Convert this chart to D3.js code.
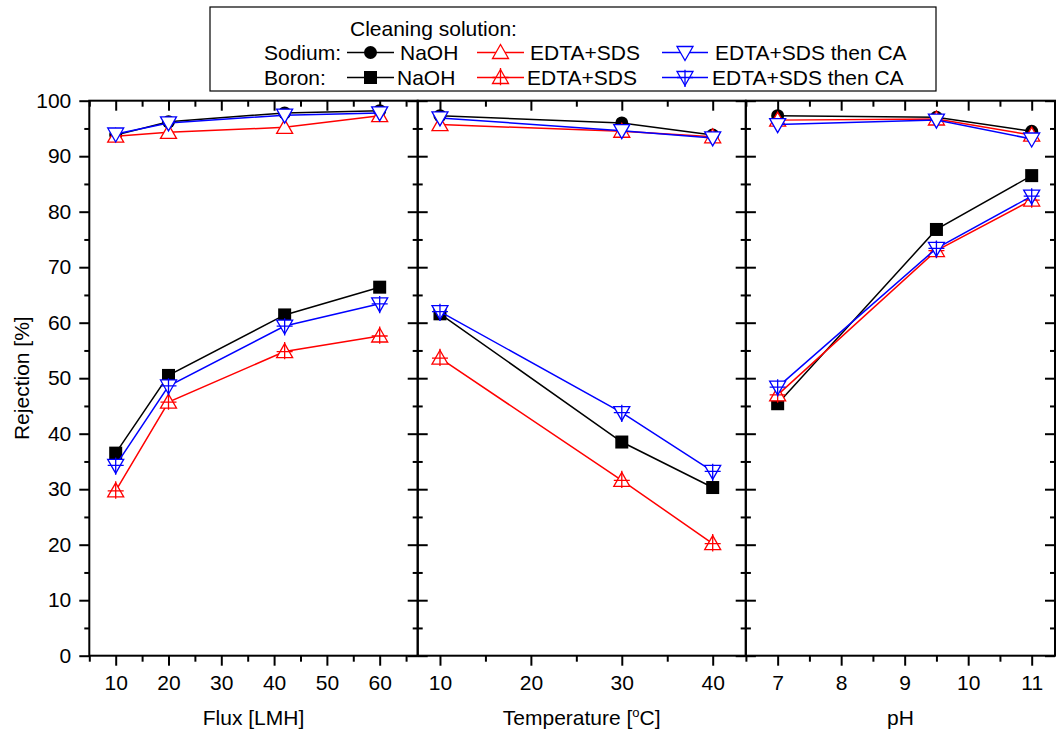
<!DOCTYPE html>
<html>
<head>
<meta charset="utf-8">
<script src="https://cdn.jsdelivr.net/npm/d3@7"></script>
<style>
body { margin: 0; background: #fff; }
svg { display: block; font-family: "Liberation Sans", Arial, sans-serif; }
</style>
</head>
<body>
<div id="chart"></div>
<script>
// x values of the three panels
var flux = [10, 20, 42, 60];
var temperature = [10, 30, 40];
var ph = [7, 9.5, 11];

// sodium rejection [%]
var naFluxNaOH = [93.8, 96.2, 97.8, 98.2];
var naFluxEdta = [93.6, 94.3, 95.2, 97.3];
var naFluxCa = [94.0, 96.0, 97.4, 97.8];
var naTempNaOH = [97.3, 96.0, 93.8];
var naTempEdta = [95.7, 94.5, 93.5];
var naTempCa = [96.9, 94.6, 93.3];
var naPhNaOH = [97.3, 97.0, 94.5];
var naPhEdta = [96.5, 96.7, 93.8];
var naPhCa = [95.7, 96.5, 93.1];

// boron rejection [%]
var bFluxNaOH = [36.5, 50.5, 61.4, 66.4];
var bFluxEdta = [29.7, 45.7, 54.8, 57.6];
var bFluxCa = [34.3, 48.6, 59.4, 63.4];
var bTempNaOH = [61.6, 38.5, 30.3];
var bTempEdta = [53.6, 31.6, 20.2];
var bTempCa = [62.0, 43.8, 33.2];
var bPhNaOH = [45.4, 76.8, 86.5];
var bPhEdta = [47.0, 73.0, 82.1];
var bPhCa = [48.4, 73.4, 82.8];

// tick labels
var yTicks = [0, 10, 20, 30, 40, 50, 60, 70, 80, 90, 100];
var yMinor = [5, 15, 25, 35, 45, 55, 65, 75, 85, 95];
var fluxTicks = [10, 20, 30, 40, 50, 60];
var fluxMinor = [5, 15, 25, 35, 45, 55, 65];
var tempTicks = [10, 20, 30, 40];
var tempMinor = [15, 25, 35];
var phTicks = [7, 8, 9, 10, 11];
var phMinor = [6.5, 7.5, 8.5, 9.5, 10.5];
var solutions = ["NaOH", "EDTA+SDS", "EDTA+SDS then CA"];

var colors = ["#000000", "#ff0000", "#0000ff"];

var width = 1057, height = 731;
var top_ = 100.7, bottom = 655.7;

var svg = d3.select("#chart").append("svg")
	.attr("width", width)
	.attr("height", height);

var y = d3.scaleLinear().domain([0, 100]).range([bottom, top_]);

var panels = [
	{title: "Flux [LMH]", x: flux, domain: [5, 67.2], left: 89.3, right: 417.7,
		ticks: fluxTicks, minor: fluxMinor,
		sodium: [naFluxNaOH, naFluxEdta, naFluxCa], boron: [bFluxNaOH, bFluxEdta, bFluxCa]},
	{title: "Temperature", x: temperature, domain: [7.55, 43.63], left: 417.7, right: 745.7,
		ticks: tempTicks, minor: tempMinor,
		sodium: [naTempNaOH, naTempEdta, naTempCa], boron: [bTempNaOH, bTempEdta, bTempCa]},
	{title: "pH", x: ph, domain: [6.5, 11.367], left: 745.9, right: 1055,
		ticks: phTicks, minor: phMinor,
		sodium: [naPhNaOH, naPhEdta, naPhCa], boron: [bPhNaOH, bPhEdta, bPhCa]}
];

function styleAxis(sel) {
	sel.select(".domain").remove();
	sel.selectAll(".tick line").attr("stroke", "#000").attr("stroke-width", 2);
	sel.selectAll(".tick text").attr("fill", "#000").style("font-size", "21px")
		.style("font-family", "'Liberation Sans', Arial, sans-serif");
}

// marker: kind 0 = circle/square, 1 = up triangle, 2 = down triangle
function drawMarker(g, kind, boron, cx, cy) {
	var m = g.append("g").attr("transform", "translate(" + cx + "," + cy + ")");
	if (kind === 0) {
		if (boron) {
			m.append("rect").attr("x", -6.5).attr("y", -6.5).attr("width", 13).attr("height", 13)
				.attr("fill", "#000");
		} else {
			m.append("circle").attr("r", 6.5).attr("fill", "#000");
		}
		return;
	}
	var path = kind === 1 ? "M0,-8L8,6L-8,6Z" : "M0,8L8,-6L-8,-6Z";
	m.append("path").attr("d", path)
		.attr("fill", "#fff")
		.attr("stroke", colors[kind])
		.attr("stroke-width", 1.3);
	if (boron) {
		var plus = kind === 1 ? "M0,-9.5V7.8M-8,0H8" : "M0,-7.8V9.5M-8,0H8";
		m.append("path").attr("d", plus)
			.attr("fill", "none")
			.attr("stroke", colors[kind])
			.attr("stroke-width", 1.3);
	}
}

panels.forEach(function(p, pi) {
	var x = d3.scaleLinear().domain(p.domain).range([p.left, p.right]);

	// bottom axis, ticks outward with labels
	svg.append("g").attr("transform", "translate(0," + bottom + ")")
		.call(d3.axisBottom(x).tickValues(p.minor).tickSize(6).tickFormat(""))
		.call(styleAxis);
	svg.append("g").attr("transform", "translate(0," + bottom + ")")
		.call(d3.axisBottom(x).tickValues(p.ticks).tickSize(10).tickPadding(9).tickFormat(d3.format("d")))
		.call(styleAxis);

	// top axis, ticks inward
	svg.append("g").attr("transform", "translate(0," + top_ + ")")
		.call(d3.axisTop(x).tickValues(p.minor).tickSize(-6).tickFormat(""))
		.call(styleAxis);
	svg.append("g").attr("transform", "translate(0," + top_ + ")")
		.call(d3.axisTop(x).tickValues(p.ticks).tickSize(-10).tickFormat(""))
		.call(styleAxis);

	// left axis: outward with labels on the first panel, inward otherwise
	if (pi === 0) {
		svg.append("g").attr("transform", "translate(" + p.left + ",0)")
			.call(d3.axisLeft(y).tickValues(yMinor).tickSize(5).tickFormat(""))
			.call(styleAxis);
		svg.append("g").attr("transform", "translate(" + p.left + ",0)")
			.call(d3.axisLeft(y).tickValues(yTicks).tickSize(10).tickPadding(8).tickFormat(d3.format("d")))
			.call(styleAxis);
	} else {
		svg.append("g").attr("transform", "translate(" + p.left + ",0)")
			.call(d3.axisLeft(y).tickValues(yMinor).tickSize(-5).tickFormat(""))
			.call(styleAxis);
		svg.append("g").attr("transform", "translate(" + p.left + ",0)")
			.call(d3.axisLeft(y).tickValues(yTicks).tickSize(-10).tickFormat(""))
			.call(styleAxis);
	}
	// right axis, inward
	svg.append("g").attr("transform", "translate(" + p.right + ",0)")
		.call(d3.axisRight(y).tickValues(yMinor).tickSize(-5).tickFormat(""))
		.call(styleAxis);
	svg.append("g").attr("transform", "translate(" + p.right + ",0)")
		.call(d3.axisRight(y).tickValues(yTicks).tickSize(-10).tickFormat(""))
		.call(styleAxis);

	// frame
	svg.append("rect")
		.attr("x", p.left).attr("y", top_)
		.attr("width", p.right - p.left).attr("height", bottom - top_)
		.attr("fill", "none").attr("stroke", "#000").attr("stroke-width", 2);

	var plot = svg.append("g");
	var line = d3.line()
		.x(function(d, i) { return x(p.x[i]); })
		.y(function(d) { return y(d); });

	[p.sodium, p.boron].forEach(function(group, gi) {
		group.forEach(function(values, si) {
			plot.append("path")
				.attr("d", line(values))
				.attr("fill", "none")
				.attr("stroke", colors[si])
				.attr("stroke-width", 1.5);
			values.forEach(function(v, i) {
				drawMarker(plot, si, gi === 1, x(p.x[i]), y(v));
			});
		});
	});

	// axis title
	var t = svg.append("text")
		.attr("x", (p.left + p.right) / 2)
		.attr("y", 725)
		.attr("text-anchor", "middle")
		.style("font-size", "21px");
	if (pi === 1) {
		t.append("tspan").text("Temperature [");
		t.append("tspan").text("o").style("font-size", "13px").attr("dy", -8);
		t.append("tspan").text("C]").attr("dy", 8);
	} else {
		t.text(p.title);
	}
});

// y title
svg.append("text")
	.attr("transform", "translate(29," + (top_ + bottom) / 2 + ") rotate(-90)")
	.attr("text-anchor", "middle")
	.style("font-size", "21px")
	.text("Rejection [%]");

// legend
var legend = svg.append("g");
legend.append("rect")
	.attr("x", 210).attr("y", 7).attr("width", 726).attr("height", 84)
	.attr("fill", "#fff").attr("stroke", "#000").attr("stroke-width", 1.2);
legend.append("text").attr("x", 350).attr("y", 35.5).style("font-size", "21px").text("Cleaning solution:");

var rowNames = ["Sodium:", "Boron:"];
var lineX = [[347, 394], [477, 524], [662, 708]];
var textX = [400, 530, 715];
rowNames.forEach(function(name, ri) {
	var cy = 52.5 + ri * 25;
	legend.append("text").attr("x", 264).attr("y", cy + 7.5).style("font-size", "21px").text(name);
	solutions.forEach(function(s, si) {
		legend.append("line")
			.attr("x1", lineX[si][0]).attr("x2", lineX[si][1])
			.attr("y1", cy).attr("y2", cy)
			.attr("stroke", colors[si]).attr("stroke-width", 1.5);
		drawMarker(legend, si, ri === 1, (lineX[si][0] + lineX[si][1]) / 2, cy);
		legend.append("text").attr("x", textX[si] - ri * 3).attr("y", cy + 7.5)
			.style("font-size", "21px").text(s);
	});
});
</script>
</body>
</html>
